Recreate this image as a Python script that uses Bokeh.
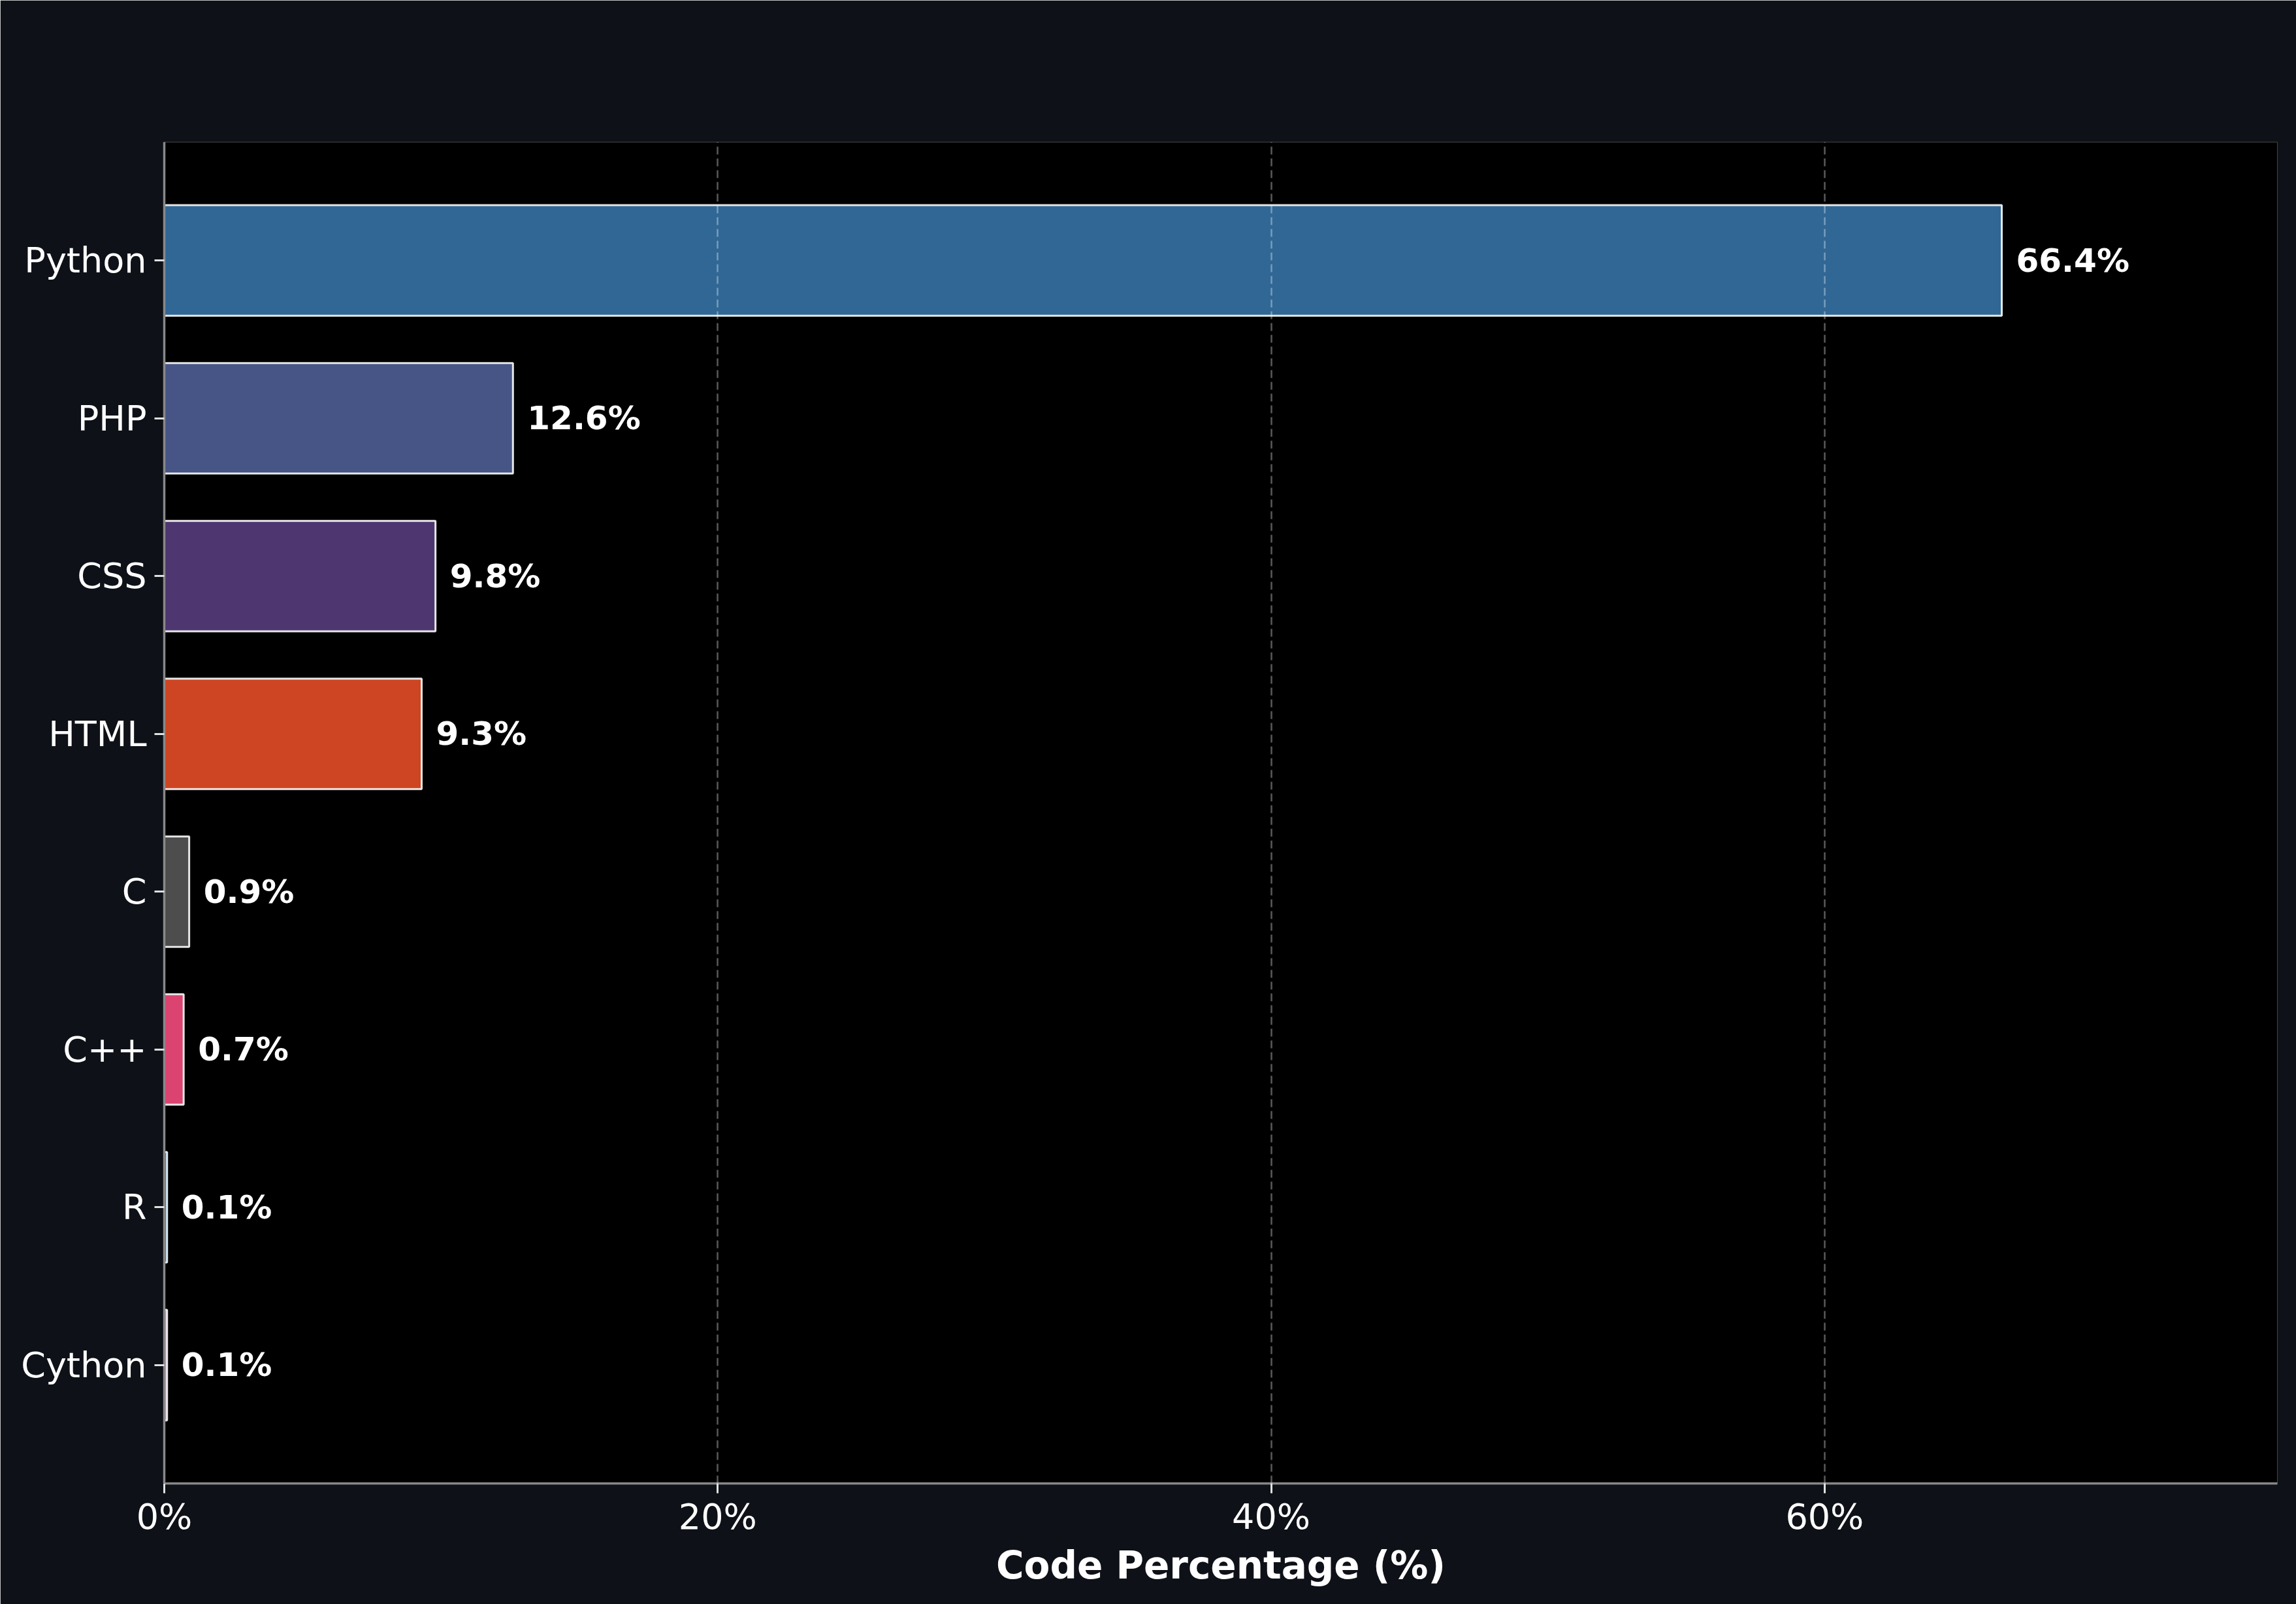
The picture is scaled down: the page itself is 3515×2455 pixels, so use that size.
from bokeh.plotting import figure
from bokeh.models import ColumnDataSource, Range1d, FactorRange, SingleIntervalTicker, PrintfTickFormatter, Label
from bokeh.embed import file_html
from bokeh.resources import INLINE
from bokeh.core.properties import value

languages = ["Python", "PHP", "CSS", "HTML", "C", "C++", "R", "Cython"]
percentages = [66.4, 12.6, 9.8, 9.3, 0.9, 0.7, 0.1, 0.1]
colors = ["#3572A5", "#4F5D95", "#563d7c", "#e34c26", "#555555", "#f34b7d", "#198CE7", "#e8a8e8"]
labels = [f"{v:.1f}%" for v in percentages]
title_text = "Top Programming Languages"
x_ticks_interval = 20

FONT = "DejaVu Sans"
BG = "#0e1117"
W, H = 3515, 2455
ML, MR, MT, MB = 251, 29, 217, 185

source = ColumnDataSource(dict(lang=languages, pct=percentages, color=colors, label=labels))

p = figure(
    width=W, height=H, title=None,
    y_range=FactorRange(factors=list(reversed(languages)), range_padding=0.25, range_padding_units="absolute"),
    x_range=Range1d(0, max(percentages) * 1.15),
    output_backend="svg", toolbar_location=None,
    min_border_left=ML, min_border_right=MR, min_border_top=MT, min_border_bottom=MB,
)

p.background_fill_color = "#000000"
p.border_fill_color = BG
p.outline_line_color = None

p.hbar(y="lang", right="pct", left=0, height=0.7, source=source,
       fill_color="color", fill_alpha=0.9, line_color="#f0f0f0", line_alpha=0.95, line_width=3)

p.text(x="pct", y="lang", text="label", source=source, x_offset=22,
       text_font=value(FONT), text_font_style="bold", text_font_size="50px",
       text_color="white", text_align="left", text_baseline="middle")

# x axis
xa = p.xaxis[0]
xa.ticker = SingleIntervalTicker(interval=x_ticks_interval)
xa.formatter = PrintfTickFormatter(format="%d%%")
xa.axis_label = "Code Percentage (%)"
xa.axis_label_text_font = FONT
xa.axis_label_text_font_style = "bold"
xa.axis_label_text_font_size = "58px"
xa.axis_label_text_color = "white"
xa.axis_label_standoff = 6
xa.major_label_text_font = FONT
xa.major_label_text_font_size = "54px"
xa.major_label_text_color = "white"
xa.major_label_standoff = 4
xa.axis_line_color = "#888888"
xa.axis_line_width = 3.5
xa.major_tick_line_color = "#e0e0e0"
xa.major_tick_line_width = 3
xa.major_tick_out = 15
xa.major_tick_in = 0
xa.minor_tick_line_color = None

# y axis
ya = p.yaxis[0]
ya.major_label_text_font = FONT
ya.major_label_text_font_size = "54px"
ya.major_label_text_color = "white"
ya.major_label_standoff = 12
ya.axis_line_color = "#888888"
ya.axis_line_width = 3.5
ya.major_tick_line_color = "#e0e0e0"
ya.major_tick_line_width = 3
ya.major_tick_out = 15
ya.major_tick_in = 0
ya.minor_tick_line_color = None

# grid
p.ygrid.grid_line_color = None
p.xgrid.grid_line_color = "white"
p.xgrid.grid_line_alpha = 0.35
p.xgrid.grid_line_dash = "12 6"
p.xgrid.grid_line_width = 2.5
p.xgrid.level = "guide"

# title as a screen-positioned label (relative to the frame), added last
frame_h = H - MT - MB
title = Label(x=652, y=frame_h + 109, x_units="screen", y_units="screen", text=title_text,
              text_font=FONT, text_font_size="99px", text_font_style="bold",
              text_color="white", text_align="left", text_baseline="alphabetic")
p.add_layout(title)

open("out.html", "w").write(file_html(p, INLINE))
